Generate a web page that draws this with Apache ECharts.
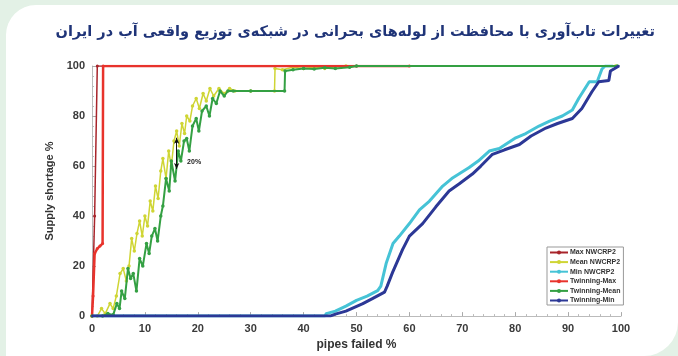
<!DOCTYPE html>
<html><head><meta charset="utf-8">
<script src="https://cdn.jsdelivr.net/npm/echarts@6/dist/echarts.min.js"></script>
<style>
html,body{margin:0;padding:0;background:#e3f1e6;width:678px;height:356px;overflow:hidden}
#panel{position:absolute;left:6px;top:5px;width:672px;height:351px;background:#fff;border-radius:30px 0 34px 0}
#c{position:absolute;left:0;top:0;width:678px;height:356px}
</style></head><body>
<div id="panel"></div>
<div id="c"></div>
<script>
const titleText = 'تغییرات تاب‌آوری با محافظت از لوله‌های بحرانی در شبکه‌ی توزیع واقعی آب در ایران';
const xTicks = [0,10,20,30,40,50,60,70,80,90,100];
const yTicks = [0,20,40,60,80,100];
const seriesNames = ['Max NWCRP2','Mean NWCRP2','Min NWCRP2','Twinning-Max','Twinning-Mean','Twinning-Min'];

const maxNW = [[0,0],[0.5,40],[1,100],[50,100]];
const meanNW = [[0,0],[1,0],[1.8,3],[2.5,1],[3.4,5],[4,3],[4.6,8],[5.3,17],[5.9,19],[6.5,14],[7,20],[7.5,31],[8,26],[8.5,33],[9,38],[9.5,32],[10,40],[10.5,36],[11,46],[11.5,42],[12,52],[12.5,47],[13,58],[13.4,63],[14,55],[14.5,66],[15,60],[15.5,70],[16,74],[16.5,68],[17,77],[17.5,73],[17.9,80],[18.5,78],[19,84],[19.7,87],[20.3,83],[21,89],[21.6,86],[22.3,91],[23,88],[24,91],[25,89],[26,91],[27,90],[30,90],[34.5,90],[34.6,99],[36,98.5],[38,99.5],[40,99],[42,99.5],[44,99],[46,99.7],[48,100],[99,100]];
const minNW = [[0,0],[44,0],[44.3,1],[46,2],[48,4],[50,6.3],[52,8],[54,10.2],[54.6,12],[55.6,21],[56.9,29],[58.1,32],[60,37],[61.9,42.5],[63.8,46],[66.3,52],[68,55],[71.3,59.4],[73,62],[75.1,66],[77,67],[80.1,71.3],[82,73],[84.5,76],[86.5,78],[88.9,80],[90.8,82.4],[92,87],[94,93.7],[95.5,93.7],[96.4,98.8],[97,100],[98.5,100]];
const twMax = [[0,0],[0.2,8],[0.5,25],[1,27],[1.5,28],[2,29],[2.1,100],[60,100]];
const twMean = [[0,0],[2,0],[3,1],[4,0.5],[4.7,5],[5.2,3],[5.6,10],[6.2,7],[6.8,19],[7.3,15],[7.8,17],[8.4,10],[9,23],[9.6,20],[10.3,29],[10.8,25],[11.3,32],[11.9,35],[12.4,30],[13,40],[13.4,44],[14,55],[14.6,50],[15,62],[15.7,54],[16.3,66],[16.8,62],[17.4,70],[17.9,71],[18.4,66],[19,76],[19.7,79],[20.2,74],[20.8,82],[21.6,84],[22.2,80],[22.8,87],[23.5,85],[24.2,90],[25,88],[25.7,90],[26.7,90],[30,90],[36.4,90],[36.5,98],[38,98.5],[40,99],[42,98.8],[44,99.3],[46,99],[48.7,99.5],[50,100],[99.3,100]];
const twMin = [[0,0],[45,0],[46,0.8],[48,2],[51.2,5],[53,7],[55.3,9.6],[55.8,12],[56.8,17.4],[58.7,26.6],[60,32],[62.5,37],[65,43.7],[67.5,50],[69.5,53],[71.9,56.8],[73.5,60],[75.7,64.7],[78,66.5],[80.8,68.6],[83,72],[85.8,75.2],[88,77],[90.8,79],[92.6,83],[94.5,89.7],[95.8,93.7],[97.7,94.2],[98,98],[99.6,100]];
const arrowFrom = [16,71.3], arrowTo = [16,58.8], arrowLabel = [19.3,61.5], arrowText = '20%';

const colors = ['#a8242a','#cfd534','#46c3d6','#e8332c','#34a043','#2c3896'];
const F = 'Liberation Sans, Arial, sans-serif';

function mk(i, data, width, symSize, extra){
  return Object.assign({
    name: seriesNames[i], type:'line', data: data, color: colors[i],
    symbol:'circle', symbolSize: symSize, showSymbol: true, showAllSymbol: true,
    lineStyle:{width: width, color: colors[i]}, itemStyle:{color: colors[i]},
    animation:false, z: 2+i
  }, extra||{});
}

const chart = echarts.init(document.getElementById('c'), null, {renderer:'canvas'});
chart.setOption({
  backgroundColor:'transparent',
  animation:false,
  title:{text:titleText, right:18, top:20, textStyle:{fontFamily:'DejaVu Sans', fontWeight:'bold', fontSize:14.5, color:'#1f3478'}},
  grid:{left:92, right:57, top:66, bottom:35},
  xAxis:{type:'value', min:0, max:100, interval:10,
    name:'pipes failed %', nameLocation:'middle', nameGap:21,
    nameTextStyle:{fontFamily:F, fontWeight:'bold', fontSize:12, color:'#333'},
    axisLine:{lineStyle:{color:'#bbb'}}, axisTick:{inside:true, length:4, lineStyle:{color:'#aaa'}},
    minorTick:{show:true, splitNumber:5, length:2, lineStyle:{color:'#bbb'}},
    axisLabel:{fontFamily:F, fontWeight:'bold', fontSize:11, color:'#3a3a3a', margin:7},
    splitLine:{show:false}},
  yAxis:{type:'value', min:0, max:100, interval:20,
    name:'Supply shortage %', nameLocation:'middle', nameGap:35,
    nameTextStyle:{fontFamily:F, fontWeight:'bold', fontSize:11, color:'#333'},
    axisLine:{show:true, lineStyle:{color:'#bbb'}}, axisTick:{show:true, inside:true, length:4, lineStyle:{color:'#aaa'}},
    minorTick:{show:true, splitNumber:5, length:2, lineStyle:{color:'#bbb'}},
    axisLabel:{fontFamily:F, fontWeight:'bold', fontSize:11, color:'#3a3a3a', margin:7},
    splitLine:{show:false}},
  legend:{data:seriesNames, orient:'vertical', left:547, top:247,
    backgroundColor:'#fff', borderColor:'#999', borderWidth:1, padding:[2,3,1,2],
    itemWidth:18, itemHeight:5, itemGap:2.6,
    textStyle:{fontFamily:F, fontWeight:'bold', fontSize:7, color:'#333', padding:[0,0,0,-3]}},
  series:[
    mk(0, maxNW, 1.5, 3),
    mk(3, twMax, 2.5, 3),
    mk(1, meanNW, 1.5, 3.5),
    mk(2, minNW, 3, 2),
    mk(4, twMean, 2, 3.5, {
      markLine:{silent:true, z:30, symbol:['arrow','arrow'], symbolSize:[4,6], label:{show:false},
        lineStyle:{color:'#111', width:1, type:'solid'},
        data:[[{coord:arrowFrom},{coord:arrowTo}]]},
      markPoint:{silent:true, z:30, symbol:'circle', symbolSize:0,
        label:{show:true, formatter:arrowText, fontFamily:F, fontWeight:'bold', fontSize:7, color:'#222'},
        data:[{coord:arrowLabel}]}
    }),
    mk(5, twMin, 3, 2)
  ]
});
</script></body></html>
